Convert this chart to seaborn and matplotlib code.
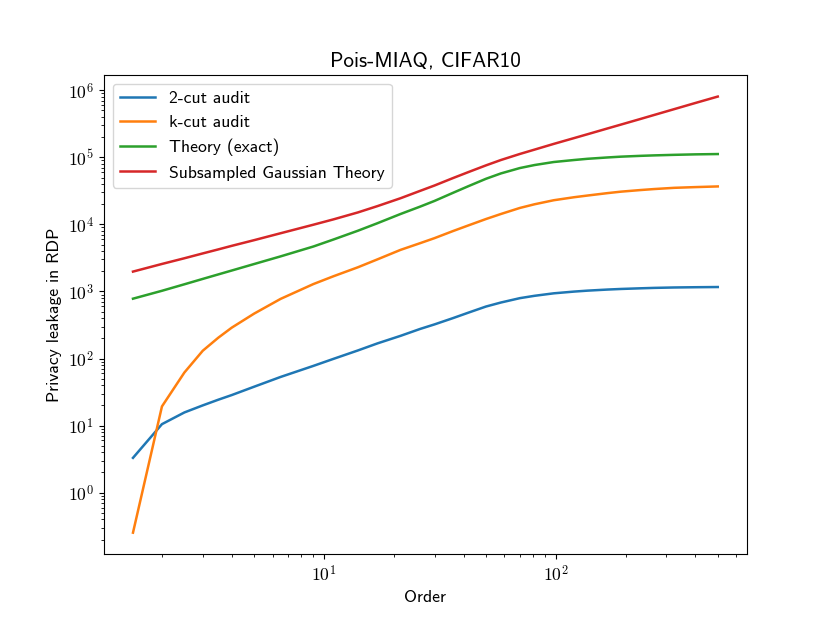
import numpy as np
import pandas as pd
import matplotlib
matplotlib.use("Agg")
import matplotlib.pyplot as plt
import matplotlib.ticker as mticker
import seaborn as sns

orders = [1.5, 2, 2.5, 3, 3.5, 4, 5, 6.5, 9, 11, 14, 17, 21.4, 26, 30, 36, 42, 50,
          58, 70, 81, 98, 120, 137, 167, 191, 232, 266, 324, 400, 500]

two_cut = [3.3, 10.5, 15.7, 20.0, 24.3, 28.5, 38.0, 53.1, 77.6, 98.9, 131.8, 167.9,
           217.8, 276.1, 322.8, 399.9, 483.1, 595.7, 683.9, 794.3, 861.0, 937.6,
           995.4, 1028, 1067, 1089, 1114, 1130, 1146, 1156, 1164]
k_cut = [0.253, 19.3, 61.9, 130.6, 204.2, 288.4, 467.7, 774.5, 1288, 1687, 2291,
         3006, 4169, 5248, 6237, 7943, 9661, 12020, 14290, 17580, 19950, 22910,
         25410, 26920, 29240, 30760, 32510, 33650, 35080, 35970, 36810]
theory_exact = [780, 1023, 1279, 1538, 1795, 2051, 2565, 3334, 4677, 5957, 8035,
                10400, 14290, 18410, 22390, 29510, 37150, 47860, 57540, 69180,
                76740, 85110, 91200, 95060, 99540, 102300, 105200, 106900, 108900,
                110700, 111900]
subsampled_gauss = [1977, 2570, 3126, 3690, 4236, 4786, 5821, 7379, 9886, 11890,
                    15070, 18710, 24550, 31620, 38020, 48980, 60260, 75860, 91200,
                    112200, 130300, 158500, 193600, 220800, 269200, 307600, 373300,
                    428500, 522400, 645700, 805400]

series_names = ["2-cut audit", "k-cut audit", "Theory (exact)", "Subsampled Gaussian Theory"]
series_values = [two_cut, k_cut, theory_exact, subsampled_gauss]
colors = ["#1f77b4", "#ff7f0e", "#2ca02c", "#d62728"]

title = "Pois-MIAQ, CIFAR10"
xlabel = "Order"
ylabel = "Privacy leakage in RDP"

plt.rcParams['font.family'] = ['cmss10', 'DejaVu Sans']
plt.rcParams['mathtext.fontset'] = 'cm'
plt.rcParams['axes.formatter.use_mathtext'] = True
base = 12.7
plt.rcParams['font.size'] = base

fig, ax = plt.subplots(figsize=(8.3, 6.23), dpi=100)

for name, vals, col in zip(series_names, series_values, colors):
    df = pd.DataFrame({"order": orders, "value": vals})
    sns.lineplot(data=df, x="order", y="value", ax=ax, color=col, label=name,
                 linewidth=1.8)

ax.set_xscale("log")
ax.set_yscale("log")


def make_fmt(axis_name):
    def fmt(v, pos):
        lo, hi = ax.get_xlim() if axis_name == "x" else ax.get_ylim()
        if v < lo * 0.999 or v > hi * 1.001:
            return ""
        e = np.log10(v)
        if abs(e - round(e)) < 1e-9:
            return r"$10^{%d}$" % int(round(e))
        return ""
    return fmt


ax.xaxis.set_major_formatter(mticker.FuncFormatter(make_fmt("x")))
ax.yaxis.set_major_formatter(mticker.FuncFormatter(make_fmt("y")))
ax.xaxis.set_minor_formatter(mticker.NullFormatter())
ax.yaxis.set_minor_formatter(mticker.NullFormatter())
ax.yaxis.set_minor_locator(mticker.LogLocator(base=10, subs=np.arange(2, 10), numticks=30))
ax.tick_params(labelsize=base)

ax.set_title(title, fontsize=15.2)
ax.set_xlabel(xlabel, fontsize=base)
ax.set_ylabel(ylabel, fontsize=base)
ax.legend(loc="upper left", fontsize=base)

fig.savefig("out.png", dpi=100)
